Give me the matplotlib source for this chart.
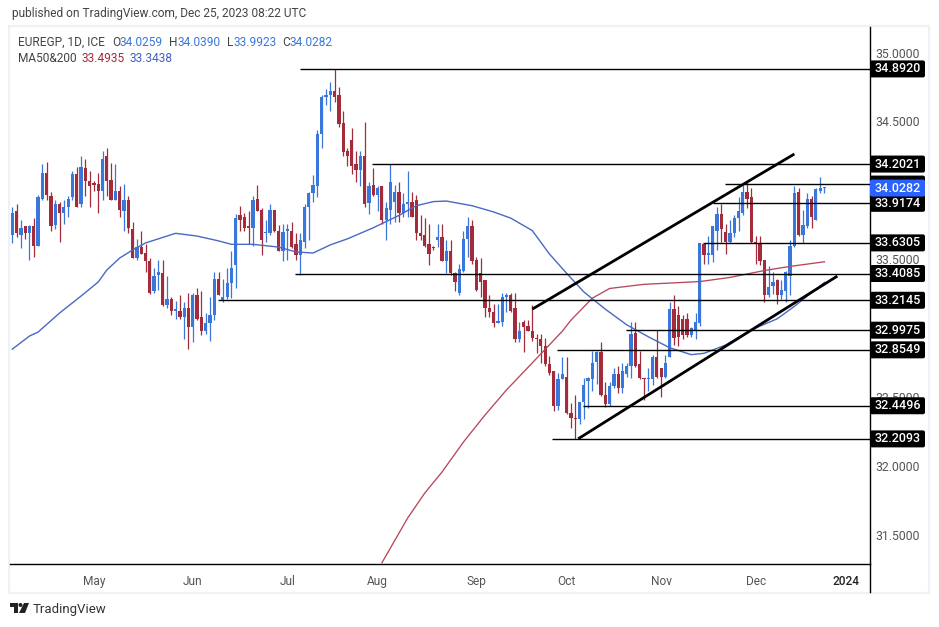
import numpy as np
import pandas as pd
import matplotlib
matplotlib.use("Agg")
import matplotlib.pyplot as plt
from matplotlib.patches import FancyBboxPatch, Polygon, Rectangle, Circle

plt.rcParams['font.family'] = ['Roboto', 'DejaVu Sans']

# daily candles
opens = [33.69,33.86,33.69,33.75,33.70,33.75,33.61,33.95,34.14,33.97,
 33.76,33.91,33.85,33.89,33.96,34.13,33.91,34.17,34.08,34.06,
 34.06,34.01,34.26,34.09,33.94,34.01,33.86,33.94,33.73,33.52,
 33.60,33.56,33.50,33.28,33.40,33.41,33.18,33.22,33.14,33.14,
 33.09,33.16,33.02,33.25,33.09,32.99,33.05,33.11,33.37,33.21,
 33.24,33.34,33.47,33.83,33.82,33.75,33.74,33.95,33.87,33.70,
 33.70,33.87,33.72,33.57,33.72,33.72,33.62,33.54,33.64,33.89,
 33.99,34.04,34.42,34.69,34.70,34.73,34.70,34.50,34.30,34.38,
 34.20,34.16,34.26,33.92,34.05,33.98,34.04,33.80,33.87,33.93,
 34.00,33.85,33.91,33.93,33.94,33.70,33.69,33.62,33.60,33.65,
 33.67,33.50,33.57,33.41,33.27,33.43,33.66,33.75,33.51,33.41,
 33.36,33.16,33.13,33.05,33.06,33.24,33.25,33.16,32.93,33.06,
 33.03,32.99,32.94,32.93,32.88,32.75,32.70,32.45,32.64,32.66,
 32.40,32.36,32.35,32.48,32.63,32.64,32.77,32.84,32.53,32.46,
 32.59,32.68,32.58,32.68,32.74,32.98,32.75,32.65,32.64,32.64,
 32.80,32.72,32.66,32.80,33.15,33.11,33.08,33.08,32.96,33.00,
 33.05,33.62,33.54,33.54,33.72,33.84,33.71,33.64,33.70,33.81,
 33.85,34.00,33.96,33.64,33.62,33.51,33.25,33.32,33.36,33.25,
 33.28,33.39,33.61,34.00,33.69,33.75,33.95,33.80,34.01,34.0259]
highs = [33.89,33.91,33.80,33.75,33.76,33.81,33.98,34.20,34.22,34.00,
 33.94,33.93,33.94,33.97,34.15,34.18,34.26,34.24,34.15,34.08,
 34.14,34.30,34.32,34.21,34.20,34.04,34.06,33.97,33.78,33.66,
 33.72,33.62,33.52,33.45,33.51,33.51,33.39,33.24,33.21,33.25,
 33.20,33.27,33.27,33.30,33.28,33.12,33.24,33.42,33.42,33.37,
 33.45,33.57,33.84,33.90,33.85,33.86,33.97,34.05,33.88,33.80,
 33.91,33.87,33.76,33.77,33.77,33.78,33.70,33.70,33.91,34.00,
 34.12,34.45,34.70,34.75,34.80,34.89,34.76,34.59,34.32,34.46,
 34.30,34.30,34.51,34.07,34.17,34.04,34.04,33.93,34.20,34.05,
 34.07,33.99,34.15,34.00,33.98,33.83,33.81,33.77,33.61,33.77,
 33.77,33.65,33.65,33.42,33.48,33.72,33.82,33.80,33.53,33.52,
 33.36,33.25,33.19,33.19,33.27,33.27,33.27,33.27,33.06,33.07,
 33.07,33.18,32.97,32.97,32.94,32.81,32.70,32.69,32.80,32.80,
 32.47,32.53,32.48,32.65,32.66,32.85,32.85,32.91,32.62,32.62,
 32.72,32.74,32.76,32.76,33.06,33.06,32.85,32.65,32.72,32.82,
 33.00,32.72,32.82,33.20,33.25,33.17,33.11,33.12,33.02,33.12,
 33.63,33.63,33.68,33.75,33.89,33.91,33.77,33.80,33.83,33.96,
 34.05,34.07,34.03,33.68,33.68,33.51,33.46,33.42,33.37,33.36,
 33.43,33.65,34.04,34.03,33.87,33.99,33.97,34.03,34.11,34.039]
lows = [33.63,33.67,33.59,33.66,33.51,33.53,33.61,33.94,33.94,33.72,
 33.73,33.64,33.77,33.82,33.94,33.89,33.89,33.97,33.89,34.01,
 33.85,33.94,33.97,33.94,33.94,33.82,33.72,33.70,33.52,33.51,
 33.55,33.42,33.26,33.27,33.29,33.17,33.16,33.11,33.08,33.08,
 32.93,32.86,32.91,33.07,32.96,32.97,32.92,33.07,33.25,33.20,
 33.22,33.23,33.30,33.72,33.72,33.62,33.61,33.86,33.54,33.64,
 33.69,33.71,33.57,33.50,33.51,33.59,33.51,33.40,33.59,33.65,
 33.93,33.96,34.32,34.63,34.59,34.65,34.47,34.26,34.19,34.13,
 34.07,34.04,33.89,33.84,33.97,33.86,33.77,33.65,33.77,33.78,
 33.78,33.82,33.82,33.82,33.65,33.65,33.60,33.47,33.58,33.60,
 33.50,33.41,33.40,33.28,33.25,33.42,33.53,33.48,33.28,33.24,
 33.09,33.09,33.02,33.05,33.03,33.13,33.13,32.91,32.91,32.84,
 32.99,32.92,32.83,32.76,32.74,32.67,32.41,32.42,32.64,32.39,
 32.29,32.21,32.32,32.35,32.43,32.56,32.61,32.52,32.44,32.45,
 32.58,32.54,32.54,32.66,32.65,32.73,32.64,32.49,32.56,32.60,
 32.65,32.51,32.65,32.80,32.89,32.88,32.93,32.95,32.95,32.93,
 33.03,33.48,33.48,33.49,33.58,33.64,33.55,33.63,33.67,33.72,
 33.83,33.88,33.63,33.48,33.47,33.20,33.24,33.26,33.19,33.22,
 33.20,33.25,33.60,33.68,33.63,33.74,33.74,33.80,33.99,33.9923]
closes = [33.85,33.70,33.74,33.70,33.75,33.61,33.96,34.14,33.98,33.75,
 33.91,33.85,33.89,33.95,34.13,33.89,34.18,34.08,34.04,34.05,
 34.01,34.24,34.08,33.94,34.01,33.87,33.94,33.74,33.52,33.60,
 33.55,33.50,33.27,33.39,33.42,33.18,33.22,33.14,33.15,33.09,
 33.16,33.02,33.25,33.08,32.99,33.05,33.11,33.37,33.25,33.24,
 33.34,33.45,33.81,33.80,33.74,33.74,33.94,33.86,33.65,33.70,
 33.87,33.72,33.57,33.71,33.73,33.60,33.54,33.65,33.89,33.99,
 34.05,34.42,34.69,34.70,34.73,34.69,34.49,34.29,34.26,34.19,
 34.16,34.26,33.91,34.04,33.98,34.03,33.80,33.88,34.07,34.00,
 33.85,33.91,33.93,33.82,33.70,33.68,33.61,33.55,33.59,33.67,
 33.50,33.57,33.41,33.35,33.44,33.66,33.75,33.50,33.29,33.35,
 33.16,33.13,33.05,33.06,33.24,33.25,33.14,32.93,32.99,33.02,
 32.99,32.94,32.93,32.88,32.75,32.69,32.45,32.64,32.68,32.40,
 32.36,32.35,32.48,32.60,32.65,32.76,32.84,32.53,32.46,32.59,
 32.68,32.58,32.70,32.74,32.97,32.74,32.65,32.64,32.65,32.80,
 32.66,32.66,32.76,33.15,32.94,32.95,32.96,32.96,33.01,33.06,
 33.63,33.54,33.56,33.75,33.84,33.73,33.64,33.70,33.81,33.86,
 34.00,33.95,33.64,33.62,33.50,33.25,33.31,33.35,33.25,33.29,
 33.42,33.61,33.99,33.69,33.76,33.95,33.82,34.02,34.03,34.0282]

# moving averages, read at a few bars
ma50_bars = [0,4,6,11,16,20,22,25,28,31,35,38,43,48,51,56,62,66,70,74,78,84,90,94,98,101,107,112,116,
             121,125,129,133,138,143,148,153,158,161,166,172,178,182,186,189]
ma50_vals = [32.86,32.955,32.984,33.122,33.245,33.347,33.434,33.521,33.579,33.63,33.67,33.70,33.68,33.645,
             33.62,33.62,33.60,33.565,33.557,33.616,33.66,33.74,33.83,33.90,33.93,33.934,33.90,33.855,33.81,
             33.72,33.55,33.41,33.275,33.15,33.036,32.95,32.87,32.82,32.83,32.89,33.00,33.08,
             33.17,33.27,33.3438]
ma200_bars = [86,92,96,100,105,110,115,121,128,130,135,139,147,160,167,175,181,189]
ma200_vals = [31.31,31.635,31.817,31.969,32.187,32.382,32.564,32.76,32.99,33.07,33.23,33.30,33.33,
              33.35,33.38,33.43,33.46,33.4935]

# horizontal levels and the bar where each one starts
levels = [34.8920,34.2021,34.057,33.9174,33.6305,33.4085,33.2145,32.9975,32.8549,32.4496,32.2093]
level_starts = [67,83.7,165.9,163,160.8,65.8,47.9,142.8,126.8,132.8,125.6]
level_labels = ['34.8920','34.2021','','33.9174','33.6305','33.4085','33.2145','32.9975','32.8549','32.4496','32.2093']

# channel
upper_bars, upper_vals = [121,182], [33.15,34.275]
lower_bars, lower_vals = [131.7,192], [32.21,33.39]

price_ticks = [35.0,34.5,33.5,32.5,32.0,31.5]
month_names = ['May','Jun','Jul','Aug','Sep','Oct','Nov','Dec','2024']
month_starts = ['2023-05-01','2023-06-01','2023-07-03','2023-08-01','2023-09-01','2023-10-02',
                '2023-11-01','2023-12-01','2024-01-01']
last_price = 34.0282

BLUE = '#3a77dc'
RED = '#a32b3a'
W, H = 939, 627
PX_PER_UNIT = 137.9

opens, highs, lows, closes = map(np.array, (opens, highs, lows, closes))
dates = pd.bdate_range(end='2023-12-25', periods=len(closes))
bars = np.arange(len(closes))

fig = plt.figure(figsize=(W/100, H/100), dpi=100, facecolor='white')

# page furniture in pixel coordinates
page = fig.add_axes([0, 0, 1, 1], zorder=0)
page.set_xlim(0, W)
page.set_ylim(H, 0)
page.axis('off')
page.add_patch(Rectangle((9, 26), 920, 567, fc='white', ec='#f0f1f5', lw=1.6))
page.text(12, 14, 'published on TradingView.com, Dec 25, 2023 08:22 UTC', fontsize=8.6, color='#444444', va='center')
page.text(18, 42, 'EUREGP, 1D, ICE', fontsize=8.6, color='#444444', va='center')
for x, s, c in [(112,'O','#444444'),(120,'34.0259',BLUE),(169,'H','#444444'),(177,'34.0390',BLUE),
                (227,'L','#444444'),(233,'33.9923',BLUE),(282,'C','#444444'),(290,'34.0282',BLUE)]:
    page.text(x, 42, s, fontsize=8.6, color=c, va='center')
page.text(18, 59, 'MA50&200', fontsize=8.6, color='#444444', va='center')
page.text(81, 59, '33.4935', fontsize=8.6, color=RED, va='center')
page.text(130, 59, '33.3438', fontsize=8.6, color='#3f5fbf', va='center')

# logo
page.add_patch(Polygon([(10,603),(18,603),(18,613),(14,613),(14,607),(10,607)], fc='#222222', ec='none'))
page.add_patch(Circle((20.5,605), 2, fc='#222222', ec='none'))
page.add_patch(Polygon([(24,603),(29,603),(25,613),(19,613)], fc='#222222', ec='none'))
page.text(33, 609, 'TradingView', fontsize=9.5, color='#333333', va='center')

# main chart
ax = fig.add_axes([10/W, 1-564/H, 860/W, (564-27)/H], zorder=1)
ax.patch.set_alpha(0)
ax.set_xlim(-0.535, 199.6)
ax.set_ylim(31.302, 35.196)
for s in ['top', 'left']:
    ax.spines[s].set_visible(False)
ax.spines['bottom'].set_linewidth(1.0)
ax.spines['right'].set_linewidth(1.0)
ax.set_yticks([])

colors = [BLUE if c >= o else RED for o, c in zip(opens, closes)]
ax.vlines(bars, lows, highs, colors=colors, lw=0.9, zorder=2)
ax.bar(bars, np.maximum(np.abs(closes-opens), 0.012), bottom=np.minimum(opens, closes), width=0.76,
       color=colors, lw=0, zorder=3)

ax.plot(ma200_bars, ma200_vals, color='#b5485a', lw=0.95, zorder=4)
ax.plot(ma50_bars, ma50_vals, color='#4a68c4', lw=1.0, zorder=4)

ax.hlines(levels, level_starts, 199.6, colors='black', lw=1.0, zorder=5)
ax.plot(upper_bars, upper_vals, color='black', lw=2.0, zorder=6, solid_capstyle='butt')
ax.plot(lower_bars, lower_vals, color='black', lw=2.0, zorder=6, solid_capstyle='butt')

tick_pos = [np.busday_count(dates[0].date(), d) for d in month_starts]
ax.set_xticks(tick_pos)
ax.set_xticklabels(month_names, fontsize=8.6, color='#555555')
ax.tick_params(axis='x', length=0, pad=8)
ax.get_xticklabels()[-1].set_color('#222222')
ax.get_xticklabels()[-1].set_fontweight('medium')

# price scale to the right
pax = fig.add_axes([870/W, 1-564/H, 60/W, (564-27)/H], zorder=2)
pax.patch.set_alpha(0)
pax.set_xlim(0, 60)
pax.set_ylim(ax.get_ylim())
pax.axis('off')
for p in price_ticks:
    pax.text(27.5, p, f'{p:.4f}', fontsize=8.8, color='#555555', ha='center', va='center', zorder=1)


def price_tag(p, label, color):
    h = 17/PX_PER_UNIT
    pax.add_patch(FancyBboxPatch((0, p-h/2), 55, h, boxstyle='round,pad=0,rounding_size=2',
                                 mutation_aspect=1/PX_PER_UNIT, fc=color, ec='none', zorder=2))
    if label:
        pax.text(27.5, p, label, fontsize=9, fontweight='medium', color='white', ha='center',
                 va='center', zorder=3)


for p, lab in zip(levels, level_labels):
    price_tag(p, lab, 'black')
price_tag(last_price, f'{last_price:.4f}', '#2962ff')
# vertical scale line runs down to the frame
page.plot([870, 870], [564, 592], color='black', lw=1.0)

fig.savefig('out.png', dpi=100)
